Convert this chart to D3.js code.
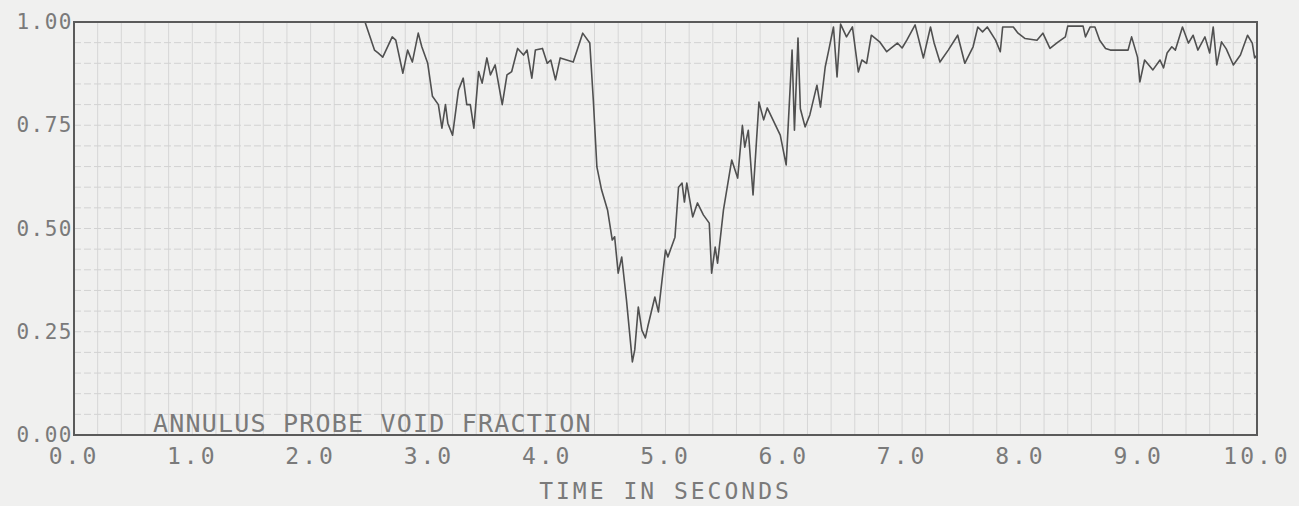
<!DOCTYPE html>
<html>
<head>
<meta charset="utf-8">
<script src="https://cdn.jsdelivr.net/npm/d3@7"></script>
<style>
  html, body { margin: 0; padding: 0; background: #f0f0ef; }
  svg text { font-family: "DejaVu Sans Mono", monospace; fill: #7a7a7a; }
</style>
</head>
<body>
<svg id="chart" width="1299" height="506"></svg>
<script>
// Time axis (seconds) and annulus probe void fraction
const timeSec = [
  0.00, 2.46, 2.54, 2.57, 2.61, 2.69, 2.72, 2.78, 2.82, 2.86, 2.91, 2.94, 2.99,
  3.03, 3.08, 3.11, 3.14, 3.16, 3.20, 3.25, 3.29, 3.32, 3.35, 3.38, 3.42, 3.45,
  3.49, 3.52, 3.56, 3.62, 3.66, 3.70, 3.75, 3.80, 3.83, 3.87, 3.90, 3.96, 4.00,
  4.03, 4.07, 4.11, 4.22, 4.30, 4.36, 4.39, 4.42, 4.46, 4.51, 4.55, 4.57, 4.60,
  4.63, 4.67, 4.72, 4.74, 4.77, 4.80, 4.83, 4.85, 4.91, 4.94, 5.00, 5.02, 5.08,
  5.11, 5.14, 5.16, 5.18, 5.23, 5.27, 5.32, 5.37, 5.39, 5.42, 5.44, 5.49, 5.56,
  5.61, 5.65, 5.67, 5.70, 5.74, 5.79, 5.83, 5.86, 5.97, 6.02, 6.07, 6.09, 6.12,
  6.14, 6.18, 6.22, 6.28, 6.31, 6.35, 6.38, 6.42, 6.45, 6.48, 6.53, 6.58, 6.63,
  6.66, 6.70, 6.74, 6.81, 6.87, 6.96, 7.00, 7.04, 7.11, 7.18, 7.24, 7.27, 7.32,
  7.39, 7.47, 7.53, 7.60, 7.64, 7.68, 7.72, 7.79, 7.83, 7.85, 7.94, 7.98, 8.04,
  8.14, 8.19, 8.25, 8.32, 8.38, 8.40, 8.53, 8.55, 8.59, 8.63, 8.67, 8.72, 8.76,
  8.91, 8.94, 8.99, 9.01, 9.05, 9.12, 9.18, 9.21, 9.24, 9.28, 9.31, 9.37, 9.42,
  9.46, 9.50, 9.56, 9.60, 9.63, 9.66, 9.70, 9.74, 9.80, 9.86, 9.92, 9.96, 9.98,
  10.00
];
const voidFrac = [
  1.000, 1.000, 0.932, 0.925, 0.915, 0.964, 0.956, 0.876, 0.932, 0.903, 0.973, 0.940, 0.900,
  0.820, 0.800, 0.743, 0.800, 0.755, 0.726, 0.835, 0.864, 0.800, 0.800, 0.743, 0.880, 0.852,
  0.913, 0.872, 0.896, 0.800, 0.872, 0.880, 0.936, 0.920, 0.932, 0.864, 0.932, 0.936, 0.900,
  0.908, 0.860, 0.913, 0.903, 0.973, 0.949, 0.810, 0.649, 0.593, 0.545, 0.472, 0.480, 0.392,
  0.431, 0.327, 0.177, 0.206, 0.310, 0.254, 0.235, 0.262, 0.334, 0.298, 0.448, 0.431, 0.479,
  0.600, 0.610, 0.564, 0.610, 0.528, 0.562, 0.533, 0.513, 0.392, 0.455, 0.416, 0.545, 0.666,
  0.622, 0.750, 0.697, 0.738, 0.581, 0.806, 0.763, 0.792, 0.726, 0.654, 0.932, 0.738, 0.961,
  0.790, 0.746, 0.775, 0.847, 0.794, 0.891, 0.932, 0.988, 0.867, 0.995, 0.964, 0.988, 0.879,
  0.908, 0.900, 0.968, 0.952, 0.928, 0.949, 0.937, 0.956, 0.993, 0.913, 0.988, 0.950, 0.903,
  0.932, 0.968, 0.900, 0.940, 0.988, 0.976, 0.988, 0.956, 0.928, 0.988, 0.988, 0.973, 0.960,
  0.956, 0.973, 0.936, 0.952, 0.964, 0.990, 0.990, 0.964, 0.988, 0.988, 0.956, 0.936, 0.932,
  0.932, 0.964, 0.915, 0.855, 0.908, 0.884, 0.908, 0.889, 0.925, 0.940, 0.932, 0.988, 0.949,
  0.968, 0.932, 0.964, 0.925, 0.988, 0.896, 0.952, 0.935, 0.896, 0.920, 0.968, 0.949, 0.913,
  0.920
];

const xTicks = [0, 1, 2, 3, 4, 5, 6, 7, 8, 9, 10];
const yTicks = [0, 0.25, 0.5, 0.75, 1.0];
const xTitle = 'TIME IN SECONDS';
const plotLabel = 'ANNULUS PROBE VOID FRACTION';

const svg = d3.select('#chart');
const margin = { top: 22, right: 42, bottom: 71, left: 74 };
const width = +svg.attr('width') - margin.left - margin.right;
const height = +svg.attr('height') - margin.top - margin.bottom;

const x = d3.scaleLinear().domain([0, 10]).range([margin.left, margin.left + width]);
const y = d3.scaleLinear().domain([0, 1]).range([margin.top + height, margin.top]);

// Grid paper: every 0.2 s and every 0.05 of void fraction
const grid = svg.append('g').attr('class', 'grid');
grid.selectAll('line.v')
  .data(d3.range(1, 50).map((i) => i * 0.2))
  .join('line')
  .attr('x1', (d) => x(d)).attr('x2', (d) => x(d))
  .attr('y1', y(0)).attr('y2', y(1))
  .attr('stroke', '#d6d6d6')
  .attr('stroke-width', 1);
grid.selectAll('line.h')
  .data(d3.range(1, 20).map((i) => i * 0.05))
  .join('line')
  .attr('x1', x(0)).attr('x2', x(10))
  .attr('y1', (d) => y(d)).attr('y2', (d) => y(d))
  .attr('stroke', '#d2d2d2')
  .attr('stroke-dasharray', '7,3')
  .attr('stroke-width', 1);

// The trace
const data = timeSec.map((t, i) => ({ t, v: voidFrac[i] }));
svg.append('path')
  .datum(data)
  .attr('fill', 'none')
  .attr('stroke', '#505050')
  .attr('stroke-width', 1.6)
  .attr('stroke-linejoin', 'round')
  .attr('d', d3.line().x((d) => x(d.t)).y((d) => y(d.v)));

// Frame
svg.append('rect')
  .attr('x', x(0)).attr('y', y(1))
  .attr('width', width).attr('height', height)
  .attr('fill', 'none')
  .attr('stroke', '#5a5a5a')
  .attr('stroke-width', 2);

// Axis labels
const fmtX = d3.format('.1f');
const fmtY = d3.format('.2f');

svg.append('g')
  .selectAll('text')
  .data(xTicks)
  .join('text')
  .attr('x', (d) => x(d))
  .attr('y', y(0) + 29)
  .attr('text-anchor', 'middle')
  .attr('font-size', 23)
  .attr('letter-spacing', 3)
  .text((d) => fmtX(d));

svg.append('g')
  .selectAll('text')
  .data(yTicks)
  .join('text')
  .attr('x', x(0) - 1)
  .attr('y', (d) => y(d) + 7)
  .attr('text-anchor', 'end')
  .attr('font-size', 21)
  .attr('letter-spacing', 1.5)
  .text((d) => fmtY(d));

svg.append('text')
  .attr('x', (x(0) + x(10)) / 2)
  .attr('y', y(0) + 64)
  .attr('text-anchor', 'middle')
  .attr('font-size', 23)
  .attr('letter-spacing', 3)
  .text(xTitle);

svg.append('text')
  .attr('x', 153)
  .attr('y', y(0) - 3)
  .attr('font-size', 25)
  .attr('letter-spacing', 1.2)
  .attr('fill', '#6a6a6a')
  .text(plotLabel);
</script>
</body>
</html>
